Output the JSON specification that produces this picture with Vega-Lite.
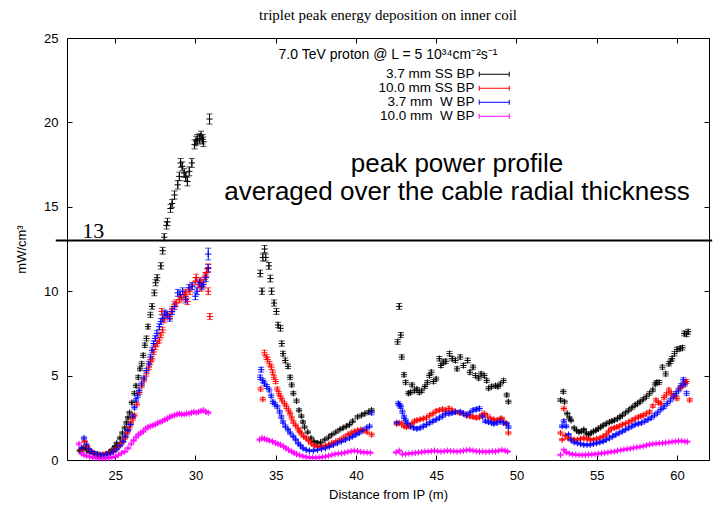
{
  "$schema": "https://vega.github.io/schema/vega-lite/v6.json",
  "width": 642,
  "height": 422,
  "autosize": {"type": "none"},
  "padding": {"left": 67, "top": 38, "right": 7, "bottom": 45},
  "background": "white",
  "title": {
    "text": "triplet peak energy deposition on inner coil",
    "font": "Liberation Serif",
    "fontSize": 15,
    "fontWeight": "normal",
    "color": "black",
    "anchor": "middle",
    "offset": 9
  },
  "config": {
    "view": {"stroke": "black", "strokeWidth": 1},
    "axis": {"grid": false, "domain": false}
  },
  "data": {
    "values": [
      {"s":"a","x":22.8,"y":0.55,"e":0.06},{"s":"a","x":23.0,"y":0.7,"e":0.06},{"s":"a","x":23.2,"y":0.6,"e":0.06},{"s":"a","x":23.4,"y":0.45,"e":0.05},{"s":"a","x":23.6,"y":0.4,"e":0.05},{"s":"a","x":23.8,"y":0.35,"e":0.05},{"s":"a","x":24.0,"y":0.3,"e":0.05},{"s":"a","x":24.2,"y":0.3,"e":0.05},{"s":"a","x":24.4,"y":0.35,"e":0.05},{"s":"a","x":24.6,"y":0.45,"e":0.05},{"s":"a","x":24.8,"y":0.6,"e":0.06},{"s":"a","x":25.0,"y":0.8,"e":0.06},{"s":"a","x":25.1,"y":1.0,"e":0.06},{"s":"a","x":25.3,"y":1.3,"e":0.07},{"s":"a","x":25.45,"y":1.6,"e":0.07},{"s":"a","x":25.6,"y":1.9,"e":0.07},{"s":"a","x":25.7,"y":2.2,"e":0.08},{"s":"a","x":25.8,"y":2.5,"e":0.08},{"s":"a","x":25.9,"y":2.8,"e":0.08},{"s":"a","x":26.04,"y":3.4,"e":0.09},{"s":"a","x":26.2,"y":3.95,"e":0.1},{"s":"a","x":26.3,"y":4.4,"e":0.1},{"s":"a","x":26.44,"y":4.9,"e":0.11},{"s":"a","x":26.55,"y":5.4,"e":0.11},{"s":"a","x":26.65,"y":5.7,"e":0.12},{"s":"a","x":26.75,"y":6.2,"e":0.12},{"s":"a","x":26.85,"y":6.8,"e":0.13},{"s":"a","x":26.95,"y":7.2,"e":0.14},{"s":"a","x":27.05,"y":7.9,"e":0.14},{"s":"a","x":27.2,"y":8.6,"e":0.15},{"s":"a","x":27.3,"y":9.1,"e":0.16},{"s":"a","x":27.44,"y":9.9,"e":0.17},{"s":"a","x":27.52,"y":10.5,"e":0.18},{"s":"a","x":27.62,"y":10.8,"e":0.18},{"s":"a","x":27.85,"y":11.5,"e":0.19},{"s":"a","x":27.96,"y":12.4,"e":0.2},{"s":"a","x":28.06,"y":13.2,"e":0.21},{"s":"a","x":28.2,"y":13.9,"e":0.22},{"s":"a","x":28.26,"y":14.1,"e":0.22},{"s":"a","x":28.45,"y":14.9,"e":0.23},{"s":"a","x":28.55,"y":15.2,"e":0.23},{"s":"a","x":28.7,"y":15.7,"e":0.24},{"s":"a","x":28.9,"y":16.3,"e":0.25},{"s":"a","x":29.0,"y":16.8,"e":0.25},{"s":"a","x":29.08,"y":17.6,"e":0.26},{"s":"a","x":29.18,"y":17.4,"e":0.26},{"s":"a","x":29.3,"y":17.0,"e":0.26},{"s":"a","x":29.4,"y":16.8,"e":0.26},{"s":"a","x":29.5,"y":16.5,"e":0.26},{"s":"a","x":29.62,"y":17.1,"e":0.26},{"s":"a","x":29.78,"y":17.6,"e":0.26},{"s":"a","x":29.95,"y":18.7,"e":0.27},{"s":"a","x":30.04,"y":18.9,"e":0.28},{"s":"a","x":30.12,"y":19.0,"e":0.28},{"s":"a","x":30.25,"y":19.05,"e":0.28},{"s":"a","x":30.35,"y":19.2,"e":0.28},{"s":"a","x":30.45,"y":19.0,"e":0.28},{"s":"a","x":30.5,"y":18.85,"e":0.28},{"s":"a","x":30.88,"y":20.2,"e":0.3},
      {"s":"a","x":34.04,"y":11.05,"e":0.2},{"s":"a","x":34.15,"y":10.0,"e":0.19},{"s":"a","x":34.2,"y":12.0,"e":0.21},{"s":"a","x":34.31,"y":12.5,"e":0.21},{"s":"a","x":34.38,"y":12.0,"e":0.21},{"s":"a","x":34.58,"y":11.5,"e":0.2},{"s":"a","x":34.67,"y":10.75,"e":0.2},{"s":"a","x":34.75,"y":10.0,"e":0.19},{"s":"a","x":34.9,"y":9.3,"e":0.18},{"s":"a","x":35.05,"y":8.8,"e":0.17},{"s":"a","x":35.15,"y":8.0,"e":0.16},{"s":"a","x":35.3,"y":7.8,"e":0.16},{"s":"a","x":35.38,"y":6.9,"e":0.15},{"s":"a","x":35.46,"y":6.3,"e":0.14},{"s":"a","x":35.6,"y":5.9,"e":0.14},{"s":"a","x":35.77,"y":5.55,"e":0.13},{"s":"a","x":35.9,"y":4.9,"e":0.12},{"s":"a","x":36.0,"y":4.45,"e":0.11},{"s":"a","x":36.1,"y":3.95,"e":0.1},{"s":"a","x":36.3,"y":3.5,"e":0.1},{"s":"a","x":36.46,"y":2.95,"e":0.09},{"s":"a","x":36.6,"y":2.6,"e":0.08},{"s":"a","x":36.7,"y":2.25,"e":0.08},{"s":"a","x":36.8,"y":1.95,"e":0.07},{"s":"a","x":37.0,"y":1.65,"e":0.07},{"s":"a","x":37.2,"y":1.3,"e":0.07},{"s":"a","x":37.4,"y":1.1,"e":0.06},{"s":"a","x":37.6,"y":1.0,"e":0.06},{"s":"a","x":37.8,"y":1.05,"e":0.06},{"s":"a","x":38.06,"y":1.2,"e":0.06},{"s":"a","x":38.3,"y":1.35,"e":0.07},{"s":"a","x":38.5,"y":1.5,"e":0.07},{"s":"a","x":38.75,"y":1.65,"e":0.07},{"s":"a","x":39.0,"y":1.8,"e":0.07},{"s":"a","x":39.2,"y":1.9,"e":0.07},{"s":"a","x":39.4,"y":2.0,"e":0.07},{"s":"a","x":39.6,"y":2.1,"e":0.08},{"s":"a","x":39.8,"y":2.3,"e":0.08},{"s":"a","x":40.1,"y":2.55,"e":0.08},{"s":"a","x":40.35,"y":2.65,"e":0.08},{"s":"a","x":40.56,"y":2.75,"e":0.08},{"s":"a","x":40.8,"y":2.85,"e":0.09},{"s":"a","x":40.98,"y":2.95,"e":0.09},
      {"s":"a","x":42.6,"y":7.0,"e":0.14},{"s":"a","x":42.7,"y":9.1,"e":0.17},{"s":"a","x":42.8,"y":7.4,"e":0.15},{"s":"a","x":42.86,"y":6.1,"e":0.13},{"s":"a","x":43.0,"y":5.05,"e":0.12},{"s":"a","x":43.1,"y":4.6,"e":0.11},{"s":"a","x":43.27,"y":3.95,"e":0.1},{"s":"a","x":43.4,"y":4.0,"e":0.1},{"s":"a","x":43.5,"y":4.45,"e":0.11},{"s":"a","x":43.65,"y":4.1,"e":0.1},{"s":"a","x":43.8,"y":4.2,"e":0.1},{"s":"a","x":43.95,"y":4.0,"e":0.1},{"s":"a","x":44.1,"y":4.1,"e":0.1},{"s":"a","x":44.3,"y":4.35,"e":0.1},{"s":"a","x":44.45,"y":4.6,"e":0.11},{"s":"a","x":44.58,"y":5.0,"e":0.11},{"s":"a","x":44.7,"y":5.2,"e":0.12},{"s":"a","x":44.83,"y":4.65,"e":0.11},{"s":"a","x":45.0,"y":4.8,"e":0.11},{"s":"a","x":45.2,"y":6.0,"e":0.13},{"s":"a","x":45.3,"y":5.6,"e":0.12},{"s":"a","x":45.45,"y":5.8,"e":0.13},{"s":"a","x":45.6,"y":5.85,"e":0.13},{"s":"a","x":45.83,"y":6.3,"e":0.13},{"s":"a","x":46.0,"y":6.0,"e":0.13},{"s":"a","x":46.2,"y":5.9,"e":0.13},{"s":"a","x":46.3,"y":5.4,"e":0.12},{"s":"a","x":46.5,"y":6.1,"e":0.13},{"s":"a","x":46.7,"y":5.6,"e":0.12},{"s":"a","x":46.96,"y":5.9,"e":0.13},{"s":"a","x":47.1,"y":5.2,"e":0.12},{"s":"a","x":47.3,"y":5.5,"e":0.12},{"s":"a","x":47.45,"y":5.0,"e":0.12},{"s":"a","x":47.65,"y":4.85,"e":0.11},{"s":"a","x":47.8,"y":5.1,"e":0.12},{"s":"a","x":48.0,"y":5.0,"e":0.11},{"s":"a","x":48.15,"y":4.7,"e":0.11},{"s":"a","x":48.27,"y":4.25,"e":0.1},{"s":"a","x":48.45,"y":4.35,"e":0.1},{"s":"a","x":48.7,"y":4.4,"e":0.1},{"s":"a","x":48.85,"y":4.35,"e":0.1},{"s":"a","x":49.0,"y":4.5,"e":0.11},{"s":"a","x":49.2,"y":4.7,"e":0.11},{"s":"a","x":49.4,"y":3.85,"e":0.1},{"s":"a","x":49.5,"y":3.45,"e":0.09},
      {"s":"a","x":52.75,"y":3.55,"e":0.09},{"s":"a","x":52.92,"y":4.05,"e":0.1},{"s":"a","x":53.0,"y":3.45,"e":0.09},{"s":"a","x":53.17,"y":2.75,"e":0.08},{"s":"a","x":53.3,"y":2.5,"e":0.08},{"s":"a","x":53.4,"y":2.35,"e":0.08},{"s":"a","x":53.6,"y":1.9,"e":0.07},{"s":"a","x":53.75,"y":1.75,"e":0.07},{"s":"a","x":53.9,"y":1.65,"e":0.07},{"s":"a","x":54.05,"y":1.7,"e":0.07},{"s":"a","x":54.2,"y":1.8,"e":0.07},{"s":"a","x":54.35,"y":1.6,"e":0.07},{"s":"a","x":54.5,"y":1.5,"e":0.07},{"s":"a","x":54.65,"y":1.6,"e":0.07},{"s":"a","x":54.8,"y":1.7,"e":0.07},{"s":"a","x":54.95,"y":1.75,"e":0.07},{"s":"a","x":55.1,"y":1.85,"e":0.07},{"s":"a","x":55.25,"y":1.95,"e":0.07},{"s":"a","x":55.4,"y":2.05,"e":0.08},{"s":"a","x":55.6,"y":2.15,"e":0.08},{"s":"a","x":55.8,"y":2.25,"e":0.08},{"s":"a","x":55.95,"y":2.3,"e":0.08},{"s":"a","x":56.1,"y":2.35,"e":0.08},{"s":"a","x":56.3,"y":2.45,"e":0.08},{"s":"a","x":56.45,"y":2.55,"e":0.08},{"s":"a","x":56.6,"y":2.65,"e":0.08},{"s":"a","x":56.8,"y":2.8,"e":0.08},{"s":"a","x":57.0,"y":2.95,"e":0.09},{"s":"a","x":57.2,"y":3.1,"e":0.09},{"s":"a","x":57.4,"y":3.25,"e":0.09},{"s":"a","x":57.55,"y":3.35,"e":0.09},{"s":"a","x":57.7,"y":3.45,"e":0.09},{"s":"a","x":57.9,"y":3.6,"e":0.09},{"s":"a","x":58.1,"y":3.75,"e":0.1},{"s":"a","x":58.3,"y":3.95,"e":0.1},{"s":"a","x":58.5,"y":4.15,"e":0.1},{"s":"a","x":58.65,"y":4.5,"e":0.11},{"s":"a","x":58.75,"y":4.6,"e":0.11},{"s":"a","x":58.9,"y":4.6,"e":0.11},{"s":"a","x":59.1,"y":5.5,"e":0.12},{"s":"a","x":59.3,"y":5.1,"e":0.12},{"s":"a","x":59.5,"y":5.7,"e":0.12},{"s":"a","x":59.6,"y":5.85,"e":0.13},{"s":"a","x":59.7,"y":6.0,"e":0.13},{"s":"a","x":59.85,"y":6.3,"e":0.13},{"s":"a","x":60.0,"y":6.55,"e":0.13},{"s":"a","x":60.2,"y":6.6,"e":0.13},{"s":"a","x":60.35,"y":6.65,"e":0.13},{"s":"a","x":60.46,"y":7.5,"e":0.14},{"s":"a","x":60.6,"y":7.45,"e":0.14},{"s":"a","x":60.7,"y":7.6,"e":0.14},
      {"s":"b","x":22.9,"y":0.6,"e":0.06},{"s":"b","x":23.1,"y":1.1,"e":0.06},{"s":"b","x":23.25,"y":0.8,"e":0.06},{"s":"b","x":23.4,"y":0.6,"e":0.05},{"s":"b","x":23.6,"y":0.45,"e":0.05},{"s":"b","x":23.8,"y":0.35,"e":0.05},{"s":"b","x":24.0,"y":0.3,"e":0.05},{"s":"b","x":24.2,"y":0.3,"e":0.05},{"s":"b","x":24.4,"y":0.35,"e":0.05},{"s":"b","x":24.6,"y":0.4,"e":0.05},{"s":"b","x":24.8,"y":0.5,"e":0.05},{"s":"b","x":25.0,"y":0.6,"e":0.06},{"s":"b","x":25.2,"y":0.8,"e":0.06},{"s":"b","x":25.4,"y":1.0,"e":0.06},{"s":"b","x":25.6,"y":1.3,"e":0.07},{"s":"b","x":25.75,"y":1.6,"e":0.07},{"s":"b","x":25.88,"y":1.9,"e":0.08},{"s":"b","x":25.98,"y":2.2,"e":0.08},{"s":"b","x":26.1,"y":2.45,"e":0.09},{"s":"b","x":26.2,"y":2.65,"e":0.09},{"s":"b","x":26.35,"y":3.3,"e":0.1},{"s":"b","x":26.5,"y":4.0,"e":0.11},{"s":"b","x":26.65,"y":4.4,"e":0.12},{"s":"b","x":26.8,"y":4.75,"e":0.12},{"s":"b","x":26.95,"y":5.1,"e":0.13},{"s":"b","x":27.1,"y":5.5,"e":0.13},{"s":"b","x":27.2,"y":5.8,"e":0.14},{"s":"b","x":27.3,"y":6.0,"e":0.14},{"s":"b","x":27.4,"y":6.4,"e":0.15},{"s":"b","x":27.5,"y":6.7,"e":0.15},{"s":"b","x":27.62,"y":6.9,"e":0.15},{"s":"b","x":27.75,"y":7.1,"e":0.16},{"s":"b","x":27.85,"y":7.4,"e":0.16},{"s":"b","x":27.96,"y":7.7,"e":0.17},{"s":"b","x":28.06,"y":8.3,"e":0.17},{"s":"b","x":27.9,"y":8.8,"e":0.18},{"s":"b","x":28.2,"y":8.6,"e":0.18},{"s":"b","x":28.4,"y":8.5,"e":0.18},{"s":"b","x":28.55,"y":8.9,"e":0.18},{"s":"b","x":28.7,"y":9.2,"e":0.19},{"s":"b","x":28.8,"y":9.3,"e":0.19},{"s":"b","x":29.0,"y":9.5,"e":0.19},{"s":"b","x":29.15,"y":9.6,"e":0.19},{"s":"b","x":29.3,"y":9.8,"e":0.2},{"s":"b","x":29.4,"y":9.9,"e":0.2},{"s":"b","x":29.5,"y":9.4,"e":0.19},{"s":"b","x":29.65,"y":10.0,"e":0.2},{"s":"b","x":29.8,"y":10.3,"e":0.2},{"s":"b","x":30.0,"y":10.6,"e":0.21},{"s":"b","x":30.05,"y":10.8,"e":0.21},{"s":"b","x":30.2,"y":10.4,"e":0.2},{"s":"b","x":30.3,"y":10.6,"e":0.21},{"s":"b","x":30.35,"y":10.2,"e":0.2},{"s":"b","x":30.5,"y":10.5,"e":0.21},{"s":"b","x":30.6,"y":10.9,"e":0.21},{"s":"b","x":30.7,"y":11.1,"e":0.22},{"s":"b","x":30.8,"y":11.4,"e":0.22},{"s":"b","x":30.8,"y":10.0,"e":0.2},{"s":"b","x":30.9,"y":8.5,"e":0.18},
      {"s":"b","x":34.06,"y":4.2,"e":0.11},{"s":"b","x":34.2,"y":3.6,"e":0.1},{"s":"b","x":34.3,"y":6.35,"e":0.15},{"s":"b","x":34.42,"y":6.1,"e":0.14},{"s":"b","x":34.5,"y":5.95,"e":0.14},{"s":"b","x":34.62,"y":5.7,"e":0.14},{"s":"b","x":34.73,"y":5.5,"e":0.13},{"s":"b","x":34.82,"y":5.2,"e":0.13},{"s":"b","x":34.9,"y":4.9,"e":0.12},{"s":"b","x":35.0,"y":4.65,"e":0.12},{"s":"b","x":35.1,"y":4.2,"e":0.11},{"s":"b","x":35.2,"y":3.95,"e":0.11},{"s":"b","x":35.3,"y":3.75,"e":0.1},{"s":"b","x":35.4,"y":3.55,"e":0.1},{"s":"b","x":35.55,"y":3.35,"e":0.1},{"s":"b","x":35.67,"y":3.15,"e":0.1},{"s":"b","x":35.8,"y":2.95,"e":0.09},{"s":"b","x":35.9,"y":2.75,"e":0.09},{"s":"b","x":36.0,"y":2.5,"e":0.09},{"s":"b","x":36.1,"y":2.25,"e":0.08},{"s":"b","x":36.25,"y":2.05,"e":0.08},{"s":"b","x":36.4,"y":1.85,"e":0.08},{"s":"b","x":36.5,"y":1.7,"e":0.07},{"s":"b","x":36.6,"y":1.55,"e":0.07},{"s":"b","x":36.75,"y":1.4,"e":0.07},{"s":"b","x":36.9,"y":1.3,"e":0.07},{"s":"b","x":37.05,"y":1.15,"e":0.07},{"s":"b","x":37.2,"y":1.0,"e":0.06},{"s":"b","x":37.4,"y":0.85,"e":0.06},{"s":"b","x":37.6,"y":0.8,"e":0.06},{"s":"b","x":37.85,"y":0.8,"e":0.06},{"s":"b","x":38.1,"y":0.85,"e":0.06},{"s":"b","x":38.3,"y":0.9,"e":0.06},{"s":"b","x":38.5,"y":1.0,"e":0.06},{"s":"b","x":38.75,"y":1.1,"e":0.06},{"s":"b","x":39.0,"y":1.2,"e":0.07},{"s":"b","x":39.25,"y":1.35,"e":0.07},{"s":"b","x":39.5,"y":1.5,"e":0.07},{"s":"b","x":39.7,"y":1.6,"e":0.07},{"s":"b","x":39.9,"y":1.7,"e":0.07},{"s":"b","x":40.1,"y":1.75,"e":0.07},{"s":"b","x":40.3,"y":1.8,"e":0.08},{"s":"b","x":40.5,"y":1.75,"e":0.07},{"s":"b","x":40.7,"y":1.65,"e":0.07},{"s":"b","x":40.98,"y":1.5,"e":0.09},
      {"s":"b","x":42.55,"y":2.15,"e":0.08},{"s":"b","x":42.7,"y":2.2,"e":0.08},{"s":"b","x":42.85,"y":2.15,"e":0.08},{"s":"b","x":43.0,"y":2.0,"e":0.08},{"s":"b","x":43.15,"y":1.95,"e":0.08},{"s":"b","x":43.3,"y":2.0,"e":0.08},{"s":"b","x":43.5,"y":2.15,"e":0.08},{"s":"b","x":43.65,"y":2.3,"e":0.08},{"s":"b","x":43.8,"y":2.35,"e":0.08},{"s":"b","x":44.0,"y":2.4,"e":0.08},{"s":"b","x":44.2,"y":2.45,"e":0.08},{"s":"b","x":44.4,"y":2.5,"e":0.09},{"s":"b","x":44.6,"y":2.65,"e":0.09},{"s":"b","x":44.8,"y":2.75,"e":0.09},{"s":"b","x":45.0,"y":2.9,"e":0.09},{"s":"b","x":45.2,"y":2.95,"e":0.09},{"s":"b","x":45.4,"y":3.0,"e":0.1},{"s":"b","x":45.6,"y":2.95,"e":0.09},{"s":"b","x":45.8,"y":3.05,"e":0.1},{"s":"b","x":46.0,"y":2.95,"e":0.09},{"s":"b","x":46.2,"y":2.85,"e":0.09},{"s":"b","x":46.45,"y":2.8,"e":0.09},{"s":"b","x":46.7,"y":2.75,"e":0.09},{"s":"b","x":46.9,"y":2.65,"e":0.09},{"s":"b","x":47.1,"y":2.6,"e":0.09},{"s":"b","x":47.3,"y":2.55,"e":0.09},{"s":"b","x":47.5,"y":2.5,"e":0.09},{"s":"b","x":47.7,"y":2.55,"e":0.09},{"s":"b","x":47.85,"y":2.65,"e":0.09},{"s":"b","x":48.0,"y":2.75,"e":0.09},{"s":"b","x":48.2,"y":2.6,"e":0.09},{"s":"b","x":48.4,"y":2.45,"e":0.08},{"s":"b","x":48.6,"y":2.4,"e":0.08},{"s":"b","x":48.8,"y":2.35,"e":0.08},{"s":"b","x":49.0,"y":2.45,"e":0.08},{"s":"b","x":49.1,"y":2.45,"e":0.08},{"s":"b","x":49.3,"y":2.2,"e":0.08},{"s":"b","x":49.5,"y":1.6,"e":0.07},
      {"s":"b","x":52.75,"y":1.6,"e":0.07},{"s":"b","x":52.85,"y":1.2,"e":0.06},{"s":"b","x":52.96,"y":3.05,"e":0.09},{"s":"b","x":53.05,"y":1.45,"e":0.07},{"s":"b","x":53.2,"y":1.3,"e":0.07},{"s":"b","x":53.4,"y":1.25,"e":0.07},{"s":"b","x":53.6,"y":1.2,"e":0.07},{"s":"b","x":53.8,"y":1.2,"e":0.07},{"s":"b","x":54.0,"y":1.25,"e":0.07},{"s":"b","x":54.2,"y":1.3,"e":0.07},{"s":"b","x":54.4,"y":1.25,"e":0.07},{"s":"b","x":54.6,"y":1.2,"e":0.07},{"s":"b","x":54.8,"y":1.2,"e":0.07},{"s":"b","x":55.0,"y":1.25,"e":0.07},{"s":"b","x":55.2,"y":1.3,"e":0.07},{"s":"b","x":55.4,"y":1.4,"e":0.07},{"s":"b","x":55.6,"y":1.5,"e":0.07},{"s":"b","x":55.75,"y":1.7,"e":0.07},{"s":"b","x":55.9,"y":1.85,"e":0.08},{"s":"b","x":56.1,"y":1.9,"e":0.08},{"s":"b","x":56.25,"y":1.95,"e":0.08},{"s":"b","x":56.4,"y":2.0,"e":0.08},{"s":"b","x":56.6,"y":2.1,"e":0.08},{"s":"b","x":56.8,"y":2.15,"e":0.08},{"s":"b","x":57.0,"y":2.25,"e":0.08},{"s":"b","x":57.2,"y":2.35,"e":0.08},{"s":"b","x":57.4,"y":2.45,"e":0.08},{"s":"b","x":57.6,"y":2.55,"e":0.08},{"s":"b","x":57.75,"y":2.6,"e":0.08},{"s":"b","x":57.9,"y":2.65,"e":0.08},{"s":"b","x":58.1,"y":2.75,"e":0.09},{"s":"b","x":58.3,"y":2.85,"e":0.09},{"s":"b","x":58.5,"y":3.2,"e":0.09},{"s":"b","x":58.7,"y":3.55,"e":0.1},{"s":"b","x":58.85,"y":3.4,"e":0.1},{"s":"b","x":59.0,"y":3.35,"e":0.1},{"s":"b","x":59.2,"y":3.7,"e":0.1},{"s":"b","x":59.35,"y":3.9,"e":0.1},{"s":"b","x":59.5,"y":4.15,"e":0.11},{"s":"b","x":59.65,"y":3.95,"e":0.1},{"s":"b","x":59.8,"y":3.8,"e":0.1},{"s":"b","x":60.0,"y":3.65,"e":0.1},{"s":"b","x":60.2,"y":4.25,"e":0.11},{"s":"b","x":60.35,"y":4.4,"e":0.11},{"s":"b","x":60.5,"y":4.6,"e":0.12},{"s":"b","x":60.6,"y":4.65,"e":0.12},{"s":"b","x":60.8,"y":3.55,"e":0.1},
      {"s":"c","x":22.9,"y":0.7,"e":0.06},{"s":"c","x":23.06,"y":1.3,"e":0.07},{"s":"c","x":23.2,"y":0.9,"e":0.06},{"s":"c","x":23.35,"y":0.65,"e":0.05},{"s":"c","x":23.5,"y":0.5,"e":0.05},{"s":"c","x":23.7,"y":0.4,"e":0.05},{"s":"c","x":23.9,"y":0.35,"e":0.05},{"s":"c","x":24.1,"y":0.3,"e":0.05},{"s":"c","x":24.3,"y":0.3,"e":0.05},{"s":"c","x":24.5,"y":0.35,"e":0.05},{"s":"c","x":24.7,"y":0.4,"e":0.05},{"s":"c","x":24.9,"y":0.5,"e":0.05},{"s":"c","x":25.1,"y":0.65,"e":0.06},{"s":"c","x":25.3,"y":0.85,"e":0.06},{"s":"c","x":25.5,"y":1.1,"e":0.06},{"s":"c","x":25.65,"y":1.4,"e":0.07},{"s":"c","x":25.8,"y":1.75,"e":0.07},{"s":"c","x":25.95,"y":2.1,"e":0.08},{"s":"c","x":26.1,"y":2.6,"e":0.09},{"s":"c","x":26.2,"y":3.1,"e":0.09},{"s":"c","x":26.3,"y":3.55,"e":0.1},{"s":"c","x":26.4,"y":3.8,"e":0.11},{"s":"c","x":26.5,"y":4.1,"e":0.11},{"s":"c","x":26.65,"y":4.5,"e":0.12},{"s":"c","x":26.8,"y":4.85,"e":0.12},{"s":"c","x":26.95,"y":5.3,"e":0.13},{"s":"c","x":27.1,"y":5.7,"e":0.14},{"s":"c","x":27.2,"y":6.1,"e":0.14},{"s":"c","x":27.3,"y":6.5,"e":0.15},{"s":"c","x":27.4,"y":6.9,"e":0.15},{"s":"c","x":27.5,"y":7.2,"e":0.16},{"s":"c","x":27.6,"y":7.5,"e":0.16},{"s":"c","x":27.75,"y":7.9,"e":0.17},{"s":"c","x":27.85,"y":8.2,"e":0.17},{"s":"c","x":27.96,"y":8.4,"e":0.18},{"s":"c","x":28.1,"y":8.7,"e":0.18},{"s":"c","x":28.25,"y":8.6,"e":0.18},{"s":"c","x":28.4,"y":8.4,"e":0.18},{"s":"c","x":28.55,"y":8.8,"e":0.18},{"s":"c","x":28.7,"y":9.1,"e":0.19},{"s":"c","x":28.9,"y":9.9,"e":0.2},{"s":"c","x":29.05,"y":9.8,"e":0.2},{"s":"c","x":29.2,"y":10.0,"e":0.2},{"s":"c","x":29.4,"y":9.5,"e":0.2},{"s":"c","x":29.6,"y":10.2,"e":0.2},{"s":"c","x":29.8,"y":10.3,"e":0.2},{"s":"c","x":30.0,"y":9.7,"e":0.2},{"s":"c","x":30.1,"y":10.0,"e":0.2},{"s":"c","x":30.25,"y":10.5,"e":0.21},{"s":"c","x":30.4,"y":10.3,"e":0.21},{"s":"c","x":30.5,"y":10.4,"e":0.21},{"s":"c","x":30.65,"y":10.8,"e":0.22},{"s":"c","x":30.8,"y":11.35,"e":0.23},{"s":"c","x":30.8,"y":12.2,"e":0.35},
      {"s":"c","x":34.04,"y":4.9,"e":0.13},{"s":"c","x":34.1,"y":5.35,"e":0.14},{"s":"c","x":34.2,"y":4.7,"e":0.12},{"s":"c","x":34.3,"y":4.55,"e":0.12},{"s":"c","x":34.45,"y":4.35,"e":0.12},{"s":"c","x":34.6,"y":4.15,"e":0.11},{"s":"c","x":34.72,"y":3.8,"e":0.1},{"s":"c","x":34.83,"y":3.45,"e":0.1},{"s":"c","x":34.95,"y":3.3,"e":0.1},{"s":"c","x":35.1,"y":3.15,"e":0.09},{"s":"c","x":35.25,"y":2.85,"e":0.09},{"s":"c","x":35.35,"y":2.55,"e":0.09},{"s":"c","x":35.46,"y":2.25,"e":0.08},{"s":"c","x":35.6,"y":2.0,"e":0.08},{"s":"c","x":35.77,"y":1.8,"e":0.08},{"s":"c","x":35.9,"y":1.6,"e":0.07},{"s":"c","x":36.1,"y":1.4,"e":0.07},{"s":"c","x":36.25,"y":1.2,"e":0.06},{"s":"c","x":36.4,"y":1.0,"e":0.06},{"s":"c","x":36.55,"y":0.85,"e":0.06},{"s":"c","x":36.7,"y":0.7,"e":0.05},{"s":"c","x":36.9,"y":0.6,"e":0.05},{"s":"c","x":37.1,"y":0.55,"e":0.05},{"s":"c","x":37.35,"y":0.55,"e":0.05},{"s":"c","x":37.6,"y":0.6,"e":0.05},{"s":"c","x":37.85,"y":0.65,"e":0.05},{"s":"c","x":38.1,"y":0.7,"e":0.05},{"s":"c","x":38.35,"y":0.8,"e":0.06},{"s":"c","x":38.6,"y":0.9,"e":0.06},{"s":"c","x":38.85,"y":1.0,"e":0.06},{"s":"c","x":39.1,"y":1.1,"e":0.06},{"s":"c","x":39.35,"y":1.2,"e":0.06},{"s":"c","x":39.6,"y":1.3,"e":0.06},{"s":"c","x":39.8,"y":1.4,"e":0.07},{"s":"c","x":40.0,"y":1.5,"e":0.07},{"s":"c","x":40.2,"y":1.6,"e":0.07},{"s":"c","x":40.4,"y":1.75,"e":0.07},{"s":"c","x":40.67,"y":1.9,"e":0.07},{"s":"c","x":40.85,"y":2.0,"e":0.08},{"s":"c","x":40.98,"y":2.8,"e":0.12},
      {"s":"c","x":42.55,"y":2.2,"e":0.08},{"s":"c","x":42.64,"y":3.35,"e":0.1},{"s":"c","x":42.72,"y":3.25,"e":0.1},{"s":"c","x":42.8,"y":3.15,"e":0.1},{"s":"c","x":42.9,"y":2.85,"e":0.09},{"s":"c","x":43.0,"y":2.55,"e":0.09},{"s":"c","x":43.1,"y":2.35,"e":0.08},{"s":"c","x":43.2,"y":2.15,"e":0.08},{"s":"c","x":43.4,"y":2.0,"e":0.08},{"s":"c","x":43.6,"y":1.9,"e":0.08},{"s":"c","x":43.8,"y":1.85,"e":0.08},{"s":"c","x":44.0,"y":1.9,"e":0.08},{"s":"c","x":44.2,"y":2.0,"e":0.08},{"s":"c","x":44.4,"y":2.1,"e":0.08},{"s":"c","x":44.6,"y":2.2,"e":0.08},{"s":"c","x":44.8,"y":2.3,"e":0.08},{"s":"c","x":45.0,"y":2.4,"e":0.08},{"s":"c","x":45.2,"y":2.5,"e":0.09},{"s":"c","x":45.4,"y":2.6,"e":0.09},{"s":"c","x":45.6,"y":2.75,"e":0.09},{"s":"c","x":45.8,"y":2.75,"e":0.09},{"s":"c","x":46.0,"y":2.8,"e":0.09},{"s":"c","x":46.2,"y":2.85,"e":0.09},{"s":"c","x":46.5,"y":2.85,"e":0.09},{"s":"c","x":46.7,"y":2.75,"e":0.09},{"s":"c","x":46.9,"y":2.65,"e":0.09},{"s":"c","x":47.1,"y":2.8,"e":0.09},{"s":"c","x":47.3,"y":2.95,"e":0.09},{"s":"c","x":47.5,"y":3.0,"e":0.1},{"s":"c","x":47.7,"y":3.05,"e":0.1},{"s":"c","x":47.9,"y":2.6,"e":0.09},{"s":"c","x":48.06,"y":2.3,"e":0.08},{"s":"c","x":48.25,"y":2.25,"e":0.08},{"s":"c","x":48.45,"y":2.2,"e":0.08},{"s":"c","x":48.6,"y":2.15,"e":0.08},{"s":"c","x":48.8,"y":2.2,"e":0.08},{"s":"c","x":49.0,"y":2.3,"e":0.08},{"s":"c","x":49.2,"y":2.2,"e":0.08},{"s":"c","x":49.4,"y":2.15,"e":0.08},{"s":"c","x":49.5,"y":1.95,"e":0.08},
      {"s":"c","x":52.85,"y":2.0,"e":0.08},{"s":"c","x":52.96,"y":2.3,"e":0.09},{"s":"c","x":53.1,"y":2.0,"e":0.08},{"s":"c","x":53.25,"y":1.5,"e":0.07},{"s":"c","x":53.4,"y":1.2,"e":0.07},{"s":"c","x":53.6,"y":1.05,"e":0.06},{"s":"c","x":53.8,"y":1.0,"e":0.06},{"s":"c","x":54.0,"y":0.95,"e":0.06},{"s":"c","x":54.2,"y":0.9,"e":0.06},{"s":"c","x":54.4,"y":0.9,"e":0.06},{"s":"c","x":54.6,"y":0.9,"e":0.06},{"s":"c","x":54.8,"y":0.95,"e":0.06},{"s":"c","x":55.0,"y":1.0,"e":0.06},{"s":"c","x":55.2,"y":1.05,"e":0.06},{"s":"c","x":55.4,"y":1.1,"e":0.06},{"s":"c","x":55.6,"y":1.2,"e":0.06},{"s":"c","x":55.8,"y":1.3,"e":0.07},{"s":"c","x":56.0,"y":1.4,"e":0.07},{"s":"c","x":56.2,"y":1.5,"e":0.07},{"s":"c","x":56.4,"y":1.6,"e":0.07},{"s":"c","x":56.6,"y":1.7,"e":0.07},{"s":"c","x":56.8,"y":1.8,"e":0.07},{"s":"c","x":57.0,"y":1.9,"e":0.08},{"s":"c","x":57.2,"y":2.0,"e":0.08},{"s":"c","x":57.4,"y":2.1,"e":0.08},{"s":"c","x":57.6,"y":2.15,"e":0.08},{"s":"c","x":57.8,"y":2.2,"e":0.08},{"s":"c","x":58.0,"y":2.3,"e":0.08},{"s":"c","x":58.2,"y":2.4,"e":0.08},{"s":"c","x":58.4,"y":2.5,"e":0.09},{"s":"c","x":58.6,"y":2.65,"e":0.09},{"s":"c","x":58.8,"y":2.8,"e":0.09},{"s":"c","x":59.0,"y":3.0,"e":0.09},{"s":"c","x":59.2,"y":3.15,"e":0.1},{"s":"c","x":59.4,"y":3.35,"e":0.1},{"s":"c","x":59.6,"y":3.55,"e":0.1},{"s":"c","x":59.8,"y":3.75,"e":0.11},{"s":"c","x":59.95,"y":3.95,"e":0.11},{"s":"c","x":60.1,"y":4.15,"e":0.11},{"s":"c","x":60.25,"y":4.4,"e":0.12},{"s":"c","x":60.4,"y":4.75,"e":0.12},{"s":"c","x":60.5,"y":4.5,"e":0.12},{"s":"c","x":60.6,"y":3.95,"e":0.11},
      {"s":"d","x":22.75,"y":0.95,"e":0.07},{"s":"d","x":22.9,"y":0.4,"e":0.05},{"s":"d","x":23.05,"y":0.3,"e":0.05},{"s":"d","x":23.2,"y":0.25,"e":0.05},{"s":"d","x":23.4,"y":0.2,"e":0.05},{"s":"d","x":23.6,"y":0.15,"e":0.05},{"s":"d","x":23.8,"y":0.12,"e":0.05},{"s":"d","x":24.0,"y":0.1,"e":0.05},{"s":"d","x":24.2,"y":0.1,"e":0.05},{"s":"d","x":24.4,"y":0.1,"e":0.05},{"s":"d","x":24.6,"y":0.12,"e":0.05},{"s":"d","x":24.8,"y":0.15,"e":0.05},{"s":"d","x":25.0,"y":0.2,"e":0.05},{"s":"d","x":25.2,"y":0.3,"e":0.05},{"s":"d","x":25.4,"y":0.4,"e":0.05},{"s":"d","x":25.6,"y":0.5,"e":0.05},{"s":"d","x":25.8,"y":0.7,"e":0.05},{"s":"d","x":26.0,"y":0.95,"e":0.06},{"s":"d","x":26.15,"y":1.15,"e":0.06},{"s":"d","x":26.3,"y":1.35,"e":0.06},{"s":"d","x":26.45,"y":1.5,"e":0.06},{"s":"d","x":26.6,"y":1.6,"e":0.06},{"s":"d","x":26.75,"y":1.7,"e":0.06},{"s":"d","x":26.9,"y":1.85,"e":0.06},{"s":"d","x":27.05,"y":1.95,"e":0.06},{"s":"d","x":27.2,"y":2.0,"e":0.06},{"s":"d","x":27.35,"y":2.05,"e":0.06},{"s":"d","x":27.5,"y":2.1,"e":0.06},{"s":"d","x":27.65,"y":2.2,"e":0.06},{"s":"d","x":27.8,"y":2.25,"e":0.06},{"s":"d","x":27.95,"y":2.3,"e":0.06},{"s":"d","x":28.1,"y":2.4,"e":0.06},{"s":"d","x":28.25,"y":2.45,"e":0.06},{"s":"d","x":28.4,"y":2.55,"e":0.06},{"s":"d","x":28.55,"y":2.6,"e":0.06},{"s":"d","x":28.7,"y":2.65,"e":0.06},{"s":"d","x":28.85,"y":2.7,"e":0.06},{"s":"d","x":29.0,"y":2.75,"e":0.06},{"s":"d","x":29.15,"y":2.7,"e":0.06},{"s":"d","x":29.3,"y":2.7,"e":0.06},{"s":"d","x":29.45,"y":2.75,"e":0.06},{"s":"d","x":29.6,"y":2.75,"e":0.06},{"s":"d","x":29.75,"y":2.8,"e":0.06},{"s":"d","x":29.9,"y":2.85,"e":0.06},{"s":"d","x":30.05,"y":2.8,"e":0.06},{"s":"d","x":30.2,"y":2.85,"e":0.06},{"s":"d","x":30.35,"y":2.9,"e":0.06},{"s":"d","x":30.5,"y":2.95,"e":0.06},{"s":"d","x":30.65,"y":2.85,"e":0.06},{"s":"d","x":30.8,"y":2.8,"e":0.06},
      {"s":"d","x":34.0,"y":1.2,"e":0.06},{"s":"d","x":34.15,"y":1.3,"e":0.06},{"s":"d","x":34.3,"y":1.25,"e":0.06},{"s":"d","x":34.45,"y":1.2,"e":0.06},{"s":"d","x":34.6,"y":1.15,"e":0.06},{"s":"d","x":34.8,"y":1.1,"e":0.06},{"s":"d","x":35.0,"y":1.0,"e":0.06},{"s":"d","x":35.15,"y":0.95,"e":0.06},{"s":"d","x":35.3,"y":0.9,"e":0.06},{"s":"d","x":35.5,"y":0.8,"e":0.05},{"s":"d","x":35.65,"y":0.7,"e":0.05},{"s":"d","x":35.8,"y":0.6,"e":0.05},{"s":"d","x":36.0,"y":0.5,"e":0.05},{"s":"d","x":36.15,"y":0.42,"e":0.05},{"s":"d","x":36.3,"y":0.35,"e":0.05},{"s":"d","x":36.5,"y":0.28,"e":0.05},{"s":"d","x":36.7,"y":0.22,"e":0.05},{"s":"d","x":36.9,"y":0.18,"e":0.05},{"s":"d","x":37.1,"y":0.15,"e":0.05},{"s":"d","x":37.3,"y":0.14,"e":0.05},{"s":"d","x":37.5,"y":0.14,"e":0.05},{"s":"d","x":37.7,"y":0.15,"e":0.05},{"s":"d","x":37.9,"y":0.17,"e":0.05},{"s":"d","x":38.1,"y":0.2,"e":0.05},{"s":"d","x":38.3,"y":0.25,"e":0.05},{"s":"d","x":38.5,"y":0.3,"e":0.05},{"s":"d","x":38.7,"y":0.35,"e":0.05},{"s":"d","x":38.9,"y":0.38,"e":0.05},{"s":"d","x":39.1,"y":0.4,"e":0.05},{"s":"d","x":39.3,"y":0.43,"e":0.05},{"s":"d","x":39.5,"y":0.48,"e":0.05},{"s":"d","x":39.7,"y":0.52,"e":0.05},{"s":"d","x":39.9,"y":0.55,"e":0.05},{"s":"d","x":40.1,"y":0.52,"e":0.05},{"s":"d","x":40.3,"y":0.48,"e":0.05},{"s":"d","x":40.5,"y":0.45,"e":0.05},{"s":"d","x":40.7,"y":0.45,"e":0.05},{"s":"d","x":40.9,"y":0.43,"e":0.05},
      {"s":"d","x":42.5,"y":0.45,"e":0.05},{"s":"d","x":42.7,"y":0.55,"e":0.05},{"s":"d","x":42.9,"y":0.35,"e":0.05},{"s":"d","x":43.1,"y":0.35,"e":0.05},{"s":"d","x":43.3,"y":0.38,"e":0.05},{"s":"d","x":43.5,"y":0.4,"e":0.05},{"s":"d","x":43.7,"y":0.42,"e":0.05},{"s":"d","x":43.9,"y":0.45,"e":0.05},{"s":"d","x":44.1,"y":0.47,"e":0.05},{"s":"d","x":44.3,"y":0.5,"e":0.05},{"s":"d","x":44.5,"y":0.5,"e":0.05},{"s":"d","x":44.7,"y":0.52,"e":0.05},{"s":"d","x":44.9,"y":0.55,"e":0.05},{"s":"d","x":45.1,"y":0.52,"e":0.05},{"s":"d","x":45.3,"y":0.5,"e":0.05},{"s":"d","x":45.5,"y":0.52,"e":0.05},{"s":"d","x":45.7,"y":0.55,"e":0.05},{"s":"d","x":45.9,"y":0.53,"e":0.05},{"s":"d","x":46.1,"y":0.52,"e":0.05},{"s":"d","x":46.3,"y":0.5,"e":0.05},{"s":"d","x":46.5,"y":0.52,"e":0.05},{"s":"d","x":46.7,"y":0.55,"e":0.05},{"s":"d","x":46.9,"y":0.58,"e":0.05},{"s":"d","x":47.1,"y":0.6,"e":0.05},{"s":"d","x":47.3,"y":0.55,"e":0.05},{"s":"d","x":47.5,"y":0.52,"e":0.05},{"s":"d","x":47.7,"y":0.5,"e":0.05},{"s":"d","x":47.9,"y":0.5,"e":0.05},{"s":"d","x":48.1,"y":0.48,"e":0.05},{"s":"d","x":48.3,"y":0.5,"e":0.05},{"s":"d","x":48.5,"y":0.52,"e":0.05},{"s":"d","x":48.7,"y":0.5,"e":0.05},{"s":"d","x":48.9,"y":0.55,"e":0.05},{"s":"d","x":49.1,"y":0.6,"e":0.05},{"s":"d","x":49.3,"y":0.55,"e":0.05},{"s":"d","x":49.45,"y":0.5,"e":0.05},
      {"s":"d","x":52.75,"y":0.3,"e":0.05},{"s":"d","x":52.96,"y":0.6,"e":0.05},{"s":"d","x":53.1,"y":0.45,"e":0.05},{"s":"d","x":53.3,"y":0.38,"e":0.05},{"s":"d","x":53.5,"y":0.33,"e":0.05},{"s":"d","x":53.7,"y":0.32,"e":0.05},{"s":"d","x":53.9,"y":0.3,"e":0.05},{"s":"d","x":54.1,"y":0.3,"e":0.05},{"s":"d","x":54.3,"y":0.3,"e":0.05},{"s":"d","x":54.5,"y":0.32,"e":0.05},{"s":"d","x":54.7,"y":0.33,"e":0.05},{"s":"d","x":54.9,"y":0.35,"e":0.05},{"s":"d","x":55.1,"y":0.37,"e":0.05},{"s":"d","x":55.3,"y":0.39,"e":0.05},{"s":"d","x":55.5,"y":0.42,"e":0.05},{"s":"d","x":55.7,"y":0.45,"e":0.05},{"s":"d","x":55.9,"y":0.48,"e":0.05},{"s":"d","x":56.1,"y":0.5,"e":0.05},{"s":"d","x":56.3,"y":0.55,"e":0.05},{"s":"d","x":56.5,"y":0.58,"e":0.05},{"s":"d","x":56.7,"y":0.62,"e":0.05},{"s":"d","x":56.9,"y":0.65,"e":0.05},{"s":"d","x":57.1,"y":0.68,"e":0.05},{"s":"d","x":57.3,"y":0.72,"e":0.05},{"s":"d","x":57.5,"y":0.75,"e":0.05},{"s":"d","x":57.7,"y":0.78,"e":0.05},{"s":"d","x":57.9,"y":0.82,"e":0.05},{"s":"d","x":58.1,"y":0.87,"e":0.05},{"s":"d","x":58.3,"y":0.92,"e":0.05},{"s":"d","x":58.5,"y":0.95,"e":0.05},{"s":"d","x":58.7,"y":0.97,"e":0.05},{"s":"d","x":58.9,"y":0.99,"e":0.05},{"s":"d","x":59.1,"y":1.0,"e":0.05},{"s":"d","x":59.3,"y":1.02,"e":0.05},{"s":"d","x":59.5,"y":1.05,"e":0.05},{"s":"d","x":59.7,"y":1.08,"e":0.05},{"s":"d","x":59.9,"y":1.1,"e":0.05},{"s":"d","x":60.1,"y":1.12,"e":0.05},{"s":"d","x":60.3,"y":1.13,"e":0.05},{"s":"d","x":60.5,"y":1.1,"e":0.05},{"s":"d","x":60.65,"y":1.08,"e":0.05}
    ]
  },
  "layer": [
    {
      "mark": {"type": "errorbar", "ticks": {"size": 6}, "thickness": 1},
      "encoding": {
        "x": {
          "field": "x", "type": "quantitative",
          "scale": {"domain": [22, 62], "nice": false, "zero": false},
          "axis": {
            "orient": "bottom", "title": "Distance from IP (m)",
            "values": [25, 30, 35, 40, 45, 50, 55, 60],
            "tickSize": -5, "tickColor": "black", "labelPadding": 14,
            "labelFont": "Liberation Sans", "labelFontSize": 13, "labelColor": "black",
            "titleFont": "Liberation Sans", "titleFontSize": 13, "titleFontWeight": "normal",
            "titleColor": "black", "titlePadding": 6
          }
        },
        "y": {
          "field": "y", "type": "quantitative",
          "scale": {"domain": [0, 25], "nice": false},
          "axis": {
            "orient": "left", "title": "mW/cm³",
            "values": [0, 5, 10, 15, 20, 25],
            "tickSize": -5, "tickColor": "black", "labelPadding": 14,
            "labelFont": "Liberation Sans", "labelFontSize": 13, "labelColor": "black",
            "titleFont": "Liberation Sans", "titleFontSize": 13, "titleFontWeight": "normal",
            "titleColor": "black", "titlePadding": 15
          }
        },
        "yError": {"field": "e"},
        "color": {
          "field": "s", "type": "nominal",
          "scale": {"domain": ["a", "b", "c", "d"], "range": ["#000000", "#ff0000", "#0000ff", "#ff00ff"]},
          "legend": {
            "orient": "none", "legendX": 420.5, "legendY": 29.5, "title": null, "padding": 0,
            "direction": "vertical",
            "symbolType": "M-3,0L3,0M-3,-0.5L-3,0.5M3,-0.5L3,0.5",
            "symbolSize": 100, "symbolStrokeWidth": 1,
            "labelAlign": "right", "labelOffset": -26.5,
            "labelFont": "Liberation Sans", "labelFontSize": 13.5, "labelColor": "black",
            "rowPadding": -1.6,
            "labelExpr": "datum.label == 'a' ? '3.7 mm SS BP' : datum.label == 'b' ? '10.0 mm SS BP' : datum.label == 'c' ? '3.7 mm\u00a0 W BP' : '10.0 mm\u00a0 W BP'",
            "encode": {
              "symbols": {
                "update": {
                  "stroke": {"scale": "color", "field": "value"},
                  "fill": {"value": "transparent"},
                  "strokeWidth": {"value": 1},
                  "opacity": {"value": 1}
                }
              }
            }
          }
        }
      }
    },
    {
      "mark": {"type": "point", "shape": "M-1,0L1,0M0,-1L0,1", "filled": false, "size": 40, "strokeWidth": 1, "opacity": 1},
      "encoding": {
        "x": {
          "field": "x", "type": "quantitative",
          "axis": {"orient": "top", "labels": false, "title": null, "values": [25, 30, 35, 40, 45, 50, 55, 60], "tickSize": -5, "tickColor": "black"}
        },
        "y": {
          "field": "y", "type": "quantitative",
          "axis": {"orient": "right", "labels": false, "title": null, "values": [0, 5, 10, 15, 20, 25], "tickSize": -5, "tickColor": "black"}
        },
        "color": {
          "field": "s", "type": "nominal",
          "legend": {
            "orient": "none", "legendX": 420.5, "legendY": 29.5, "title": null, "padding": 0,
            "direction": "vertical",
            "symbolType": "M-3,0L3,0M-3,-0.5L-3,0.5M3,-0.5L3,0.5",
            "symbolSize": 100, "symbolStrokeWidth": 1,
            "labelAlign": "right", "labelOffset": -26.5,
            "labelFont": "Liberation Sans", "labelFontSize": 13.5, "labelColor": "black",
            "rowPadding": -1.6,
            "labelExpr": "datum.label == 'a' ? '3.7 mm SS BP' : datum.label == 'b' ? '10.0 mm SS BP' : datum.label == 'c' ? '3.7 mm\u00a0 W BP' : '10.0 mm\u00a0 W BP'",
            "encode": {
              "symbols": {
                "update": {
                  "stroke": {"scale": "color", "field": "value"},
                  "fill": {"value": "transparent"},
                  "strokeWidth": {"value": 1},
                  "opacity": {"value": 1}
                }
              }
            }
          }
        }
      }
    },
    {
      "data": {"values": [{"level": 13}]},
      "mark": {"type": "rule", "strokeWidth": 2, "color": "black", "clip": false},
      "encoding": {
        "x": {"datum": 21.3, "type": "quantitative", "axis": null},
        "x2": {"datum": 62.2},
        "y": {"field": "level", "type": "quantitative", "axis": null}
      }
    },
    {
      "data": {"values": [{"level": 13}]},
      "mark": {"type": "text", "font": "Liberation Serif", "fontSize": 22, "align": "left", "baseline": "alphabetic", "color": "black", "dy": -3},
      "encoding": {
        "x": {"datum": 22.95, "type": "quantitative", "axis": null},
        "y": {"field": "level", "type": "quantitative", "axis": null},
        "text": {"field": "level"}
      }
    },
    {
      "data": {"values": [{"t": "7.0 TeV proton @ L = 5 10³⁴cm⁻²s⁻¹"}]},
      "mark": {"type": "text", "font": "Liberation Sans", "fontSize": 14, "align": "center", "baseline": "alphabetic", "color": "black"},
      "encoding": {
        "x": {"datum": 42.0, "type": "quantitative", "axis": null},
        "y": {"datum": 23.76, "type": "quantitative", "axis": null},
        "text": {"field": "t"}
      }
    },
    {
      "data": {"values": [{"t": "peak power profile"}]},
      "mark": {"type": "text", "font": "Liberation Sans", "fontSize": 26, "align": "center", "baseline": "alphabetic", "color": "black"},
      "encoding": {
        "x": {"datum": 46.3, "type": "quantitative", "axis": null},
        "y": {"datum": 17.06, "type": "quantitative", "axis": null},
        "text": {"field": "t"}
      }
    },
    {
      "data": {"values": [{"t": "averaged over the cable radial thickness"}]},
      "mark": {"type": "text", "font": "Liberation Sans", "fontSize": 26, "align": "center", "baseline": "alphabetic", "color": "black"},
      "encoding": {
        "x": {"datum": 46.3, "type": "quantitative", "axis": null},
        "y": {"datum": 15.4, "type": "quantitative", "axis": null},
        "text": {"field": "t"}
      }
    }
  ],
  "resolve": {"axis": {"x": "independent", "y": "independent"}}
}
